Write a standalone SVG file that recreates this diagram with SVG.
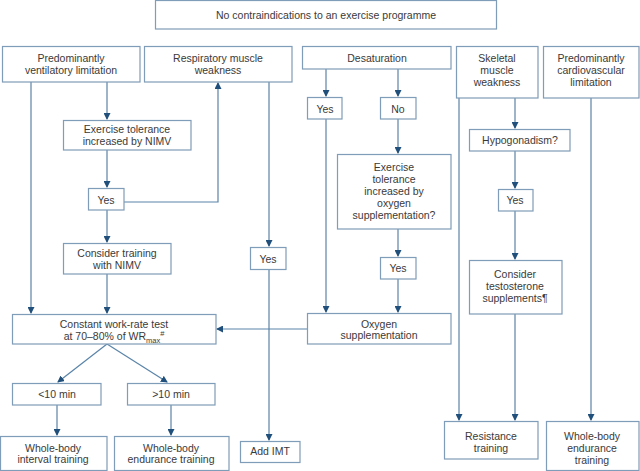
<svg xmlns="http://www.w3.org/2000/svg" width="640" height="471" viewBox="0 0 640 471">
<defs>
<marker id="ah" markerWidth="7" markerHeight="7" refX="6" refY="3.5" orient="auto" markerUnits="userSpaceOnUse">
<path d="M0,0 L7,3.5 L0,7 Z" fill="#1f4f7a"/>
</marker>
<style>
.b{fill:#fff;stroke:#7f9db8;stroke-width:1.2}
.t{font-family:"Liberation Sans",Arial,sans-serif;font-size:10.5px;fill:#3a3a3a;text-anchor:middle}
.c{fill:none;stroke:#5a84a8;stroke-width:1.2;marker-end:url(#ah)}
.n{fill:none;stroke:#5a84a8;stroke-width:1.2}
</style>
</defs>
<rect width="640" height="471" fill="#fff"/>
<g id="connectors">
<path class="c" d="M31,82 V313"/>
<path class="c" d="M107,82 V119"/>
<path class="c" d="M107,150 V187"/>
<path class="c" d="M124,202 H218 V83"/>
<path class="c" d="M107,210 V242"/>
<path class="c" d="M107,274 V313"/>
<path class="c" d="M269,82 V246"/>
<path class="c" d="M269,270 V440"/>
<path class="c" d="M107,344 L58,382"/>
<path class="c" d="M107,344 L167,382"/>
<path class="c" d="M57,405 V435"/>
<path class="c" d="M171,405 V435"/>
<path class="c" d="M326,69 V96"/>
<path class="c" d="M398,69 V96"/>
<path class="c" d="M326,119 V312"/>
<path class="c" d="M398,119 V153"/>
<path class="c" d="M398,229 V256"/>
<path class="c" d="M398,279 V312"/>
<path class="c" d="M307,329 H217"/>
<path class="c" d="M459,98 V420"/>
<path class="c" d="M515,98 V128"/>
<path class="c" d="M515,151 V188"/>
<path class="c" d="M515,211 V259"/>
<path class="c" d="M515,314 V420"/>
<path class="c" d="M591,98 V420"/>
</g>
<g id="n-top"><rect class="b" x="155.5" y="0.5" width="341" height="28.5"/><text class="t" x="326" y="19">No contraindications to an exercise programme</text></g>
<g id="n-vent"><rect class="b" x="2.5" y="46.5" width="137.5" height="35.5"/><text class="t" x="71" y="62">Predominantly</text><text class="t" x="71" y="74">ventilatory limitation</text></g>
<g id="n-resp"><rect class="b" x="144.5" y="46.5" width="147.5" height="35.5"/><text class="t" x="218" y="62">Respiratory muscle</text><text class="t" x="218" y="74">weakness</text></g>
<g id="n-desat"><rect class="b" x="302.5" y="46.5" width="148.5" height="22.5"/><text class="t" x="377" y="62">Desaturation</text></g>
<g id="n-skel"><rect class="b" x="456.5" y="46.5" width="81.5" height="51.5"/><text class="t" x="497" y="62">Skeletal</text><text class="t" x="497" y="74">muscle</text><text class="t" x="497" y="86">weakness</text></g>
<g id="n-cardio"><rect class="b" x="543.5" y="46.5" width="95.5" height="51.5"/><text class="t" x="591" y="62">Predominantly</text><text class="t" x="591" y="74">cardiovascular</text><text class="t" x="591" y="86">limitation</text></g>
<g id="n-extol"><rect class="b" x="63.5" y="120.5" width="127.5" height="29.5"/><text class="t" x="127" y="133">Exercise tolerance</text><text class="t" x="127" y="145">increased by NIMV</text></g>
<g id="n-yes1"><rect class="b" x="88.5" y="188.5" width="35.5" height="21.5"/><text class="t" x="106" y="204">Yes</text></g>
<g id="n-trainnimv"><rect class="b" x="63.5" y="243.5" width="107.5" height="30.5"/><text class="t" x="117" y="257">Consider training</text><text class="t" x="117" y="269">with NIMV</text></g>
<g id="n-yes2"><rect class="b" x="250.5" y="247.5" width="35.5" height="22"/><text class="t" x="268" y="263">Yes</text></g>
<g id="n-const"><rect class="b" x="12.5" y="314.5" width="203.5" height="29.5"/><text class="t" x="114" y="328">Constant work-rate test</text><text class="t" x="114" y="340">at 70–80% of WR<tspan font-size="7.5" baseline-shift="-3">max</tspan><tspan font-size="7.5" baseline-shift="4">#</tspan></text></g>
<g id="n-lt10"><rect class="b" x="12.5" y="383.5" width="88.5" height="21.5"/><text class="t" x="57" y="398">&lt;10 min</text></g>
<g id="n-gt10"><rect class="b" x="127.5" y="383.5" width="87.5" height="21.5"/><text class="t" x="171" y="398">&gt;10 min</text></g>
<g id="n-interval"><rect class="b" x="0.5" y="436.5" width="106.5" height="34"/><text class="t" x="53" y="452">Whole-body</text><text class="t" x="53" y="463">interval training</text></g>
<g id="n-endur1"><rect class="b" x="114.5" y="436.5" width="114.5" height="34"/><text class="t" x="171" y="452">Whole-body</text><text class="t" x="171" y="463">endurance training</text></g>
<g id="n-imt"><rect class="b" x="240.5" y="441.5" width="59.5" height="21"/><text class="t" x="270" y="455">Add IMT</text></g>
<g id="n-dyes"><rect class="b" x="307.5" y="97.5" width="34.5" height="21.5"/><text class="t" x="325" y="113">Yes</text></g>
<g id="n-dno"><rect class="b" x="380.5" y="97.5" width="35.5" height="21.5"/><text class="t" x="398" y="113">No</text></g>
<g id="n-extolo2"><rect class="b" x="337.5" y="154.5" width="113.5" height="74.5"/><text class="t" x="394" y="171">Exercise</text><text class="t" x="394" y="183">tolerance</text><text class="t" x="394" y="195">increased by</text><text class="t" x="394" y="207">oxygen</text><text class="t" x="394" y="219">supplementation?</text></g>
<g id="n-yes3"><rect class="b" x="380.5" y="257.5" width="35.5" height="21.5"/><text class="t" x="398" y="272">Yes</text></g>
<g id="n-o2"><rect class="b" x="307.5" y="313.5" width="143.5" height="30.5"/><text class="t" x="379" y="328">Oxygen</text><text class="t" x="379" y="339">supplementation</text></g>
<g id="n-hypo"><rect class="b" x="469.5" y="129.5" width="100.5" height="21.5"/><text class="t" x="520" y="144">Hypogonadism?</text></g>
<g id="n-yes4"><rect class="b" x="498.5" y="189.5" width="34.5" height="21.5"/><text class="t" x="515" y="204">Yes</text></g>
<g id="n-testo"><rect class="b" x="469.5" y="260.5" width="92.5" height="53.5"/><text class="t" x="515" y="278">Consider</text><text class="t" x="515" y="290">testosterone</text><text class="t" x="515" y="302">supplements¶</text></g>
<g id="n-resist"><rect class="b" x="444.5" y="421.5" width="93.5" height="37.5"/><text class="t" x="491" y="440">Resistance</text><text class="t" x="491" y="452">training</text></g>
<g id="n-endur2"><rect class="b" x="546.5" y="421.5" width="92.5" height="49"/><text class="t" x="592" y="440">Whole-body</text><text class="t" x="592" y="452">endurance</text><text class="t" x="592" y="464">training</text></g>
</svg>
